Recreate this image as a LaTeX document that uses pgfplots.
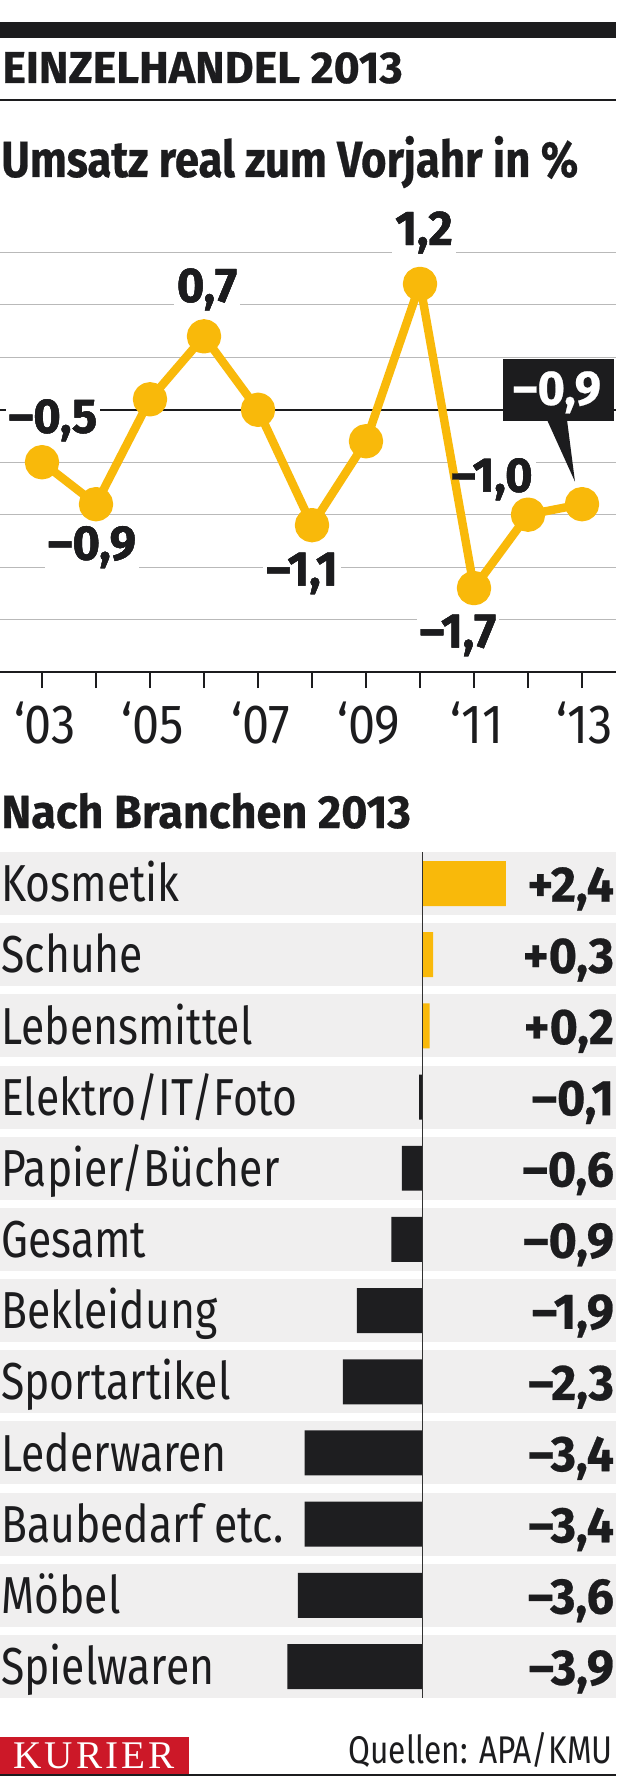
\documentclass[border=0pt]{standalone}
\usepackage{fontspec}
\usepackage{pgfplots}
\pgfplotsset{compat=1.18}
\setmainfont{Fira Sans}
\newfontfamily\fr{Fira Sans}[FakeStretch=0.82]
\newfontfamily\ft{Fira Sans}[FakeStretch=0.88]
\newfontfamily\fb{Fira Sans}[FakeStretch=0.97, FakeBold=0.5]
\newfontfamily\fbt{Fira Sans}[FakeStretch=1.0, FakeBold=0.5]
\newfontfamily\fbs{Fira Sans}[FakeStretch=0.86, FakeBold=0.5]
\newfontfamily\kurier{Liberation Serif}
\newcommand\FR[1]{\fr\fontsize{#1}{#1}\selectfont}
\newcommand\FT[1]{\ft\fontsize{#1}{#1}\selectfont}
\newcommand\FB[1]{\fb\bfseries\fontsize{#1}{#1}\selectfont}
\newcommand\FBT[1]{\fbt\bfseries\fontsize{#1}{#1}\selectfont}
\newcommand\FBS[1]{\fbs\bfseries\fontsize{#1}{#1}\selectfont}
\definecolor{ylw}{RGB}{249,185,10}
\definecolor{txt}{RGB}{28,28,30}
\definecolor{barblk}{RGB}{30,30,32}
\definecolor{rowgray}{RGB}{240,239,239}
\definecolor{gridgray}{RGB}{185,185,185}
\definecolor{kred}{RGB}{204,24,40}
\definecolor{zline}{RGB}{50,50,50}

\newcommand\pointlabels[1]{%
 \node[lab,#1] at (axis cs:{2003+(424-42)/54},{(410-245)/105}) {1,2};
 \node[lab,#1] at (axis cs:{2003+(207-42)/54},{(410-302)/105}) {0,7};
 \node[lab,#1] at (axis cs:{2003+(53-42)/54},{(410-433)/105}) {–0,5};
 \node[lab,#1] at (axis cs:{2003+(92-42)/54},{(410-560)/105}) {–0,9};
 \node[lab,#1] at (axis cs:{2003+(302-42)/54},{(410-586)/105}) {–1,1};
 \node[lab,#1] at (axis cs:{2003+(458-42)/54},{(410-648)/105}) {–1,7};
 \node[lab,#1] at (axis cs:{2003+(492-42)/54},{(410-492)/105}) {–1,0};
}
\newcommand\barrow[3]{%
  \node[anchor=base west, inner sep=0, text=txt, font=\FR{26pt}, xshift=0.5pt] at (axis cs:-12.182,{#1+0.255}) {#2};
  \node[anchor=base east, inner sep=0, text=txt, font=\FB{25pt}, xshift=-0.8pt] at (axis cs:5.571,{#1+0.255}) {#3};
}

\begin{document}
\begin{tikzpicture}[lab/.style={anchor=base, inner sep=1.5pt, font=\FB{24.3pt}, text=txt}]
\useasboundingbox (0,0) rectangle (308pt,-888pt);
\fill[white] (0,0) rectangle (308pt,-888pt);
\begin{scope}[x=0.5pt,y=-0.5pt]
 \fill[txt] (0,22) rectangle (616,38);
 \node[anchor=base west, inner sep=0, text=txt] at (2,83) {\FBT{22.3pt}EINZELHANDEL 2013};
 \draw[txt, line width=1pt] (0,100) -- (616,100);
 \node[anchor=base west, inner sep=0, text=txt] at (1,177) {\FBS{25.4pt}Umsatz real zum Vorjahr in \%};
 \node[anchor=base west, inner sep=0, text=txt] at (1,828) {\FB{23.2pt}Nach Branchen 2013};
 \fill[kred] (0,1737) rectangle (189,1776);
 \node[anchor=base, inner sep=0, text=white] at (94,1768) {\makebox[81pt][s]{\kurier\fontsize{19.6pt}{19.6pt}\selectfont K\hfill U\hfill R\hfill I\hfill E\hfill R}};
 \draw[txt, line width=1pt] (0,1775) -- (616,1775);
 \node[anchor=base east, inner sep=0, text=txt] at (613,1763) {\FR{19.3pt}Quellen: APA/KMU};
\end{scope}

% line chart
\begin{axis}[
  at={(0pt,-336pt)}, anchor=south west,
  width=308pt, height=236pt, scale only axis, clip=false,
  xmin=2002.2222, xmax=2013.6296, ymin=-2.5, ymax=2,
  axis x line*=bottom, axis y line*=left,
  y axis line style={draw=none},
  x axis line style={txt, line width=0.75pt},
  xtick={2003,...,2013},
  xticklabels={{\textquoteleft}03,,{\textquoteleft}05,,{\textquoteleft}07,,{\textquoteleft}09,,{\textquoteleft}11,,{\textquoteleft}13},
  xticklabel style={font=\FT{27.6pt}, text=txt, inner sep=0pt, anchor=north, xshift=1.5pt, yshift=-7pt},
  tick align=outside, major tick length=8pt,
  xtick style={txt, line width=0.7pt},
  ytick={-2,-1.5,-1,-0.5,0.5,1,1.5}, yticklabels={}, ytick style={draw=none},
  ymajorgrids, major grid style={gridgray, line width=0.6pt},
  extra y ticks={0}, extra y tick labels={},
  extra y tick style={grid=major, major grid style={txt, line width=0.75pt}, tick style={draw=none}},
]
\pointlabels{fill=white}
\addplot[ylw, line width=4.2pt, line join=round, mark=*, mark size=6.5pt, mark options={fill=ylw, draw=none}]
 coordinates {(2003,-0.5) (2004,-0.9) (2005,0.1) (2006,0.7) (2007,0.0) (2008,-1.1) (2009,-0.3) (2010,1.2) (2011,-1.7) (2012,-1.0) (2013,-0.9)};
\pointlabels{}
\fill[txt] (axis cs:{2003+(503-42)/54},{(410-359)/105}) rectangle (axis cs:{2003+(614-42)/54},{(410-421)/105});
\fill[txt] (axis cs:{2003+(547-42)/54},{(410-420)/105}) -- (axis cs:{2003+(567-42)/54},{(410-420)/105}) -- (axis cs:{2003+(575-42)/54},{(410-482)/105}) -- cycle;
\node[lab, text=white] at (axis cs:{2003+(557-42)/54},{(410-405)/105}) {–0,9};
\end{axis}

% bar chart
\begin{axis}[
  at={(0pt,-426pt)}, anchor=north west,
  width=308pt, height=423pt, scale only axis, clip=false,
  xmin=-12.182, xmax=5.571, ymin=-0.4424, ymax=11.4424,
  y dir=reverse, hide axis,
]
\pgfplotsinvokeforeach{0,...,11}{\fill[rowgray] (axis cs:-12.182,{#1-0.4424}) rectangle (axis cs:5.571,{#1+0.4424});}
\addplot[xbar, bar width=0.632, bar shift=0pt, fill=ylw, draw=none] coordinates {(2.4,0) (0.3,1) (0.2,2)};
\addplot[xbar, bar width=0.632, bar shift=0pt, fill=barblk, draw=none] coordinates {(-0.1,3) (-0.6,4) (-0.9,5) (-1.9,6) (-2.3,7) (-3.4,8) (-3.4,9) (-3.6,10) (-3.9,11)};
\draw[zline, line width=0.8pt] (axis cs:0,-0.4424) -- (axis cs:0,11.4424);
\barrow{0}{Kosmetik}{+2,4}
\barrow{1}{Schuhe}{+0,3}
\barrow{2}{Lebensmittel}{+0,2}
\barrow{3}{Elektro/IT/Foto}{–0,1}
\barrow{4}{Papier/Bücher}{–0,6}
\barrow{5}{Gesamt}{–0,9}
\barrow{6}{Bekleidung}{–1,9}
\barrow{7}{Sportartikel}{–2,3}
\barrow{8}{Lederwaren}{–3,4}
\barrow{9}{Baubedarf etc.}{–3,4}
\barrow{10}{Möbel}{–3,6}
\barrow{11}{Spielwaren}{–3,9}
\end{axis}
\end{tikzpicture}
\end{document}
